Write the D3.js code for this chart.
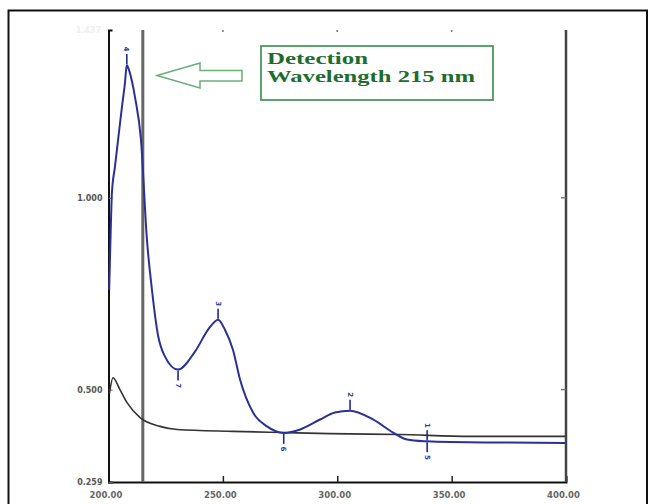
<!DOCTYPE html>
<html>
<head>
<meta charset="utf-8">
<script src="https://cdn.jsdelivr.net/npm/d3@7"></script>
<style>
  body { margin: 0; background: #fff; }
</style>
</head>
<body>
<div id="vis"></div>
<script>
// wavelength (nm) and absorbance
var sampleWl  = [200.3, 200.9, 201.5, 202.8, 204.4, 205.9, 207.2, 208, 208.8, 210.2, 211.6, 214.2, 216.8, 219.0, 221.6, 224.7, 230.4, 237.8, 244, 247.9, 250.9, 254.4, 257.5, 263.2, 269.3, 276.6, 283.8, 292.5, 299, 305.6, 315.6, 324.4, 330.5, 339.3, 350, 370, 399.8];
var sampleAbs = [0.76, 0.90, 1.013, 1.080, 1.162, 1.238, 1.30, 1.346, 1.336, 1.305, 1.262, 1.151, 0.891, 0.760, 0.643, 0.586, 0.552, 0.599, 0.66, 0.682, 0.656, 0.604, 0.526, 0.440, 0.404, 0.387, 0.396, 0.422, 0.44, 0.445, 0.422, 0.388, 0.370, 0.365, 0.363, 0.362, 0.361];

var blankWl  = [200.4, 202.0, 205.0, 208.1, 213.8, 222.5, 230.0, 254.4, 276.3, 296.8, 327.4, 358, 399.8];
var blankAbs = [0.49, 0.531, 0.500, 0.466, 0.427, 0.404, 0.396, 0.391, 0.388, 0.385, 0.383, 0.378, 0.378];

// peak / valley picks on the sample curve
var pickWl    = [208, 230.4, 247.9, 276.6, 305.6, 339.3];
var pickDir   = ["up", "down", "up", "down", "up", "both"];
var pickLabel = ["4", "7", "3", "6", "2", "1"];

var xTicks = [200, 250, 300, 350, 400];
var yTicks = [0.259, 0.500, 1.000];
var detectWl = 215;

var w = 656;
var h = 504;

var svg = d3.select("#vis")
            .append("svg")
            .attr("width", w)
            .attr("height", h)
            .style("display", "block")

// outer frame
svg.append("rect")
   .attr("x", 8.5).attr("y", 10.5)
   .attr("width", 638.5).attr("height", 510)
   .attr("fill", "none")
   .attr("stroke", "#111")
   .attr("stroke-width", 2)

const xScale = d3.scaleLinear()
                 .domain([200, 400])
                 .range([108.5, 566])
const yScale = d3.scaleLinear()
                 .domain([0.259, 1.4375])
                 .range([482, 30])

// axes
const xAxis = svg.append("g")
   .attr("transform", `translate(0,${yScale(0.259)})`)
   .call(d3.axisBottom(xScale).tickValues(xTicks).tickSize(-6).tickPadding(10).tickFormat(d3.format(".2f")))
xAxis.select(".domain").attr("stroke", "#111").attr("stroke-width", 2)
xAxis.selectAll(".tick line").attr("stroke", "#222").attr("stroke-width", 1.5)
xAxis.selectAll(".tick text")
     .attr("font-family", "DejaVu Sans").attr("font-size", 8.5).attr("font-weight", "bold").attr("fill", "#666")
     .attr("dx", -3)

const yAxis = svg.append("g")
   .attr("transform", `translate(${xScale(200)},0)`)
   .call(d3.axisLeft(yScale).tickValues(yTicks).tickSize(-4).tickPadding(6).tickFormat(d3.format(".3f")))
yAxis.select(".domain").attr("stroke", "#111").attr("stroke-width", 2)
yAxis.selectAll(".tick line").attr("stroke", "#666")
yAxis.selectAll(".tick text")
     .attr("font-family", "DejaVu Sans").attr("font-size", 8).attr("font-weight", "bold").attr("fill", "#555")

// faint top-left label, nearly washed out in the picture
svg.append("text")
   .attr("x", 101).attr("y", 33)
   .attr("text-anchor", "end")
   .attr("font-family", "DejaVu Sans").attr("font-size", 8).attr("font-weight", "bold")
   .attr("fill", "#eeeeee")
   .text("1.437")

// right border of plot
svg.append("line")
   .attr("x1", xScale(400)).attr("x2", xScale(400))
   .attr("y1", yScale(1.4375)).attr("y2", yScale(0.259))
   .attr("stroke", "#444").attr("stroke-width", 2.5)
svg.selectAll(".rtick")
   .data([0.5, 1.0])
   .enter().append("line")
   .attr("x1", xScale(400) - 5).attr("x2", xScale(400))
   .attr("y1", d => yScale(d)).attr("y2", d => yScale(d))
   .attr("stroke", "#777").attr("stroke-width", 1.5)

// small top ticks
svg.selectAll(".ttick")
   .data([250, 300, 350])
   .enter().append("line")
   .attr("x1", d => xScale(d)).attr("x2", d => xScale(d))
   .attr("y1", yScale(1.4375)).attr("y2", yScale(1.4375) + 2)
   .attr("stroke", "#777").attr("stroke-width", 1.5)

// detection wavelength line
svg.append("line")
   .attr("x1", xScale(detectWl)).attr("x2", xScale(detectWl))
   .attr("y1", yScale(1.4375)).attr("y2", yScale(0.259))
   .attr("stroke", "#666").attr("stroke-width", 3)

const line = d3.line()
               .x(d => xScale(d[0]))
               .y(d => yScale(d[1]))
               .curve(d3.curveMonotoneX)

// blank (black) spectrum
svg.append("path")
   .datum(d3.zip(blankWl, blankAbs))
   .attr("d", line)
   .attr("fill", "none")
   .attr("stroke", "#333")
   .attr("stroke-width", 1.6)

// sample (blue) spectrum
svg.append("path")
   .datum(d3.zip(sampleWl, sampleAbs))
   .attr("d", line)
   .attr("fill", "none")
   .attr("stroke", "#2a3196")
   .attr("stroke-width", 2)

// pick markers
var picks = pickWl.map((wl, i) => ({wl: wl, a: sampleAbs[sampleWl.indexOf(wl)], dir: pickDir[i], lab: pickLabel[i]}))
var pg = svg.selectAll(".pick")
            .data(picks)
            .enter().append("g")
            .attr("transform", d => `translate(${xScale(d.wl)},${yScale(d.a)})`)
pg.filter(d => d.dir != "down").append("line")
  .attr("x1", 0).attr("x2", 0).attr("y1", -1).attr("y2", -11)
  .attr("stroke", "#1f2a8a").attr("stroke-width", 1.6)
pg.filter(d => d.dir != "up").append("line")
  .attr("x1", 0).attr("x2", 0).attr("y1", 1).attr("y2", 11)
  .attr("stroke", "#1f2a8a").attr("stroke-width", 1.6)
pg.filter(d => d.dir != "down").append("text")
  .attr("transform", "translate(0,-16) rotate(90)")
  .attr("text-anchor", "middle").attr("dy", "0.35em")
  .attr("font-family", "DejaVu Sans").attr("font-size", 7).attr("font-weight", "bold")
  .attr("fill", "#2a3aa8")
  .text(d => d.lab)
pg.filter(d => d.dir != "up").append("text")
  .attr("transform", "translate(0,16) rotate(90)")
  .attr("text-anchor", "middle").attr("dy", "0.35em")
  .attr("font-family", "DejaVu Sans").attr("font-size", 7).attr("font-weight", "bold")
  .attr("fill", "#2a3aa8")
  .text(d => d.dir == "both" ? "5" : d.lab)

// annotation arrow (outline, pointing left)
var ax0 = 157, ax1 = 242, ay = 75.5
svg.append("path")
   .attr("d", `M${ax0},${ay} L${ax0 + 43},${ay - 12.5} L${ax0 + 43},${ay - 5} L${ax1},${ay - 5} L${ax1},${ay + 5.5} L${ax0 + 43},${ay + 5.5} L${ax0 + 43},${ay + 12.5} Z`)
   .attr("fill", "#fff")
   .attr("stroke", "#6aae78")
   .attr("stroke-width", 1.5)

// annotation box
svg.append("rect")
   .attr("x", 261).attr("y", 46)
   .attr("width", 232).attr("height", 54)
   .attr("fill", "#fff")
   .attr("stroke", "#4a9a5c")
   .attr("stroke-width", 1.8)
svg.append("text")
   .attr("x", 267).attr("y", 64)
   .attr("font-family", "Liberation Serif").attr("font-size", 16).attr("font-weight", "bold")
   .attr("fill", "#1d6e2e")
   .attr("textLength", 101).attr("lengthAdjust", "spacingAndGlyphs")
   .text("Detection")
svg.append("text")
   .attr("x", 267).attr("y", 82)
   .attr("font-family", "Liberation Serif").attr("font-size", 16).attr("font-weight", "bold")
   .attr("fill", "#1d6e2e")
   .attr("textLength", 208).attr("lengthAdjust", "spacingAndGlyphs")
   .text("Wavelength 215 nm")
</script>
</body>
</html>
